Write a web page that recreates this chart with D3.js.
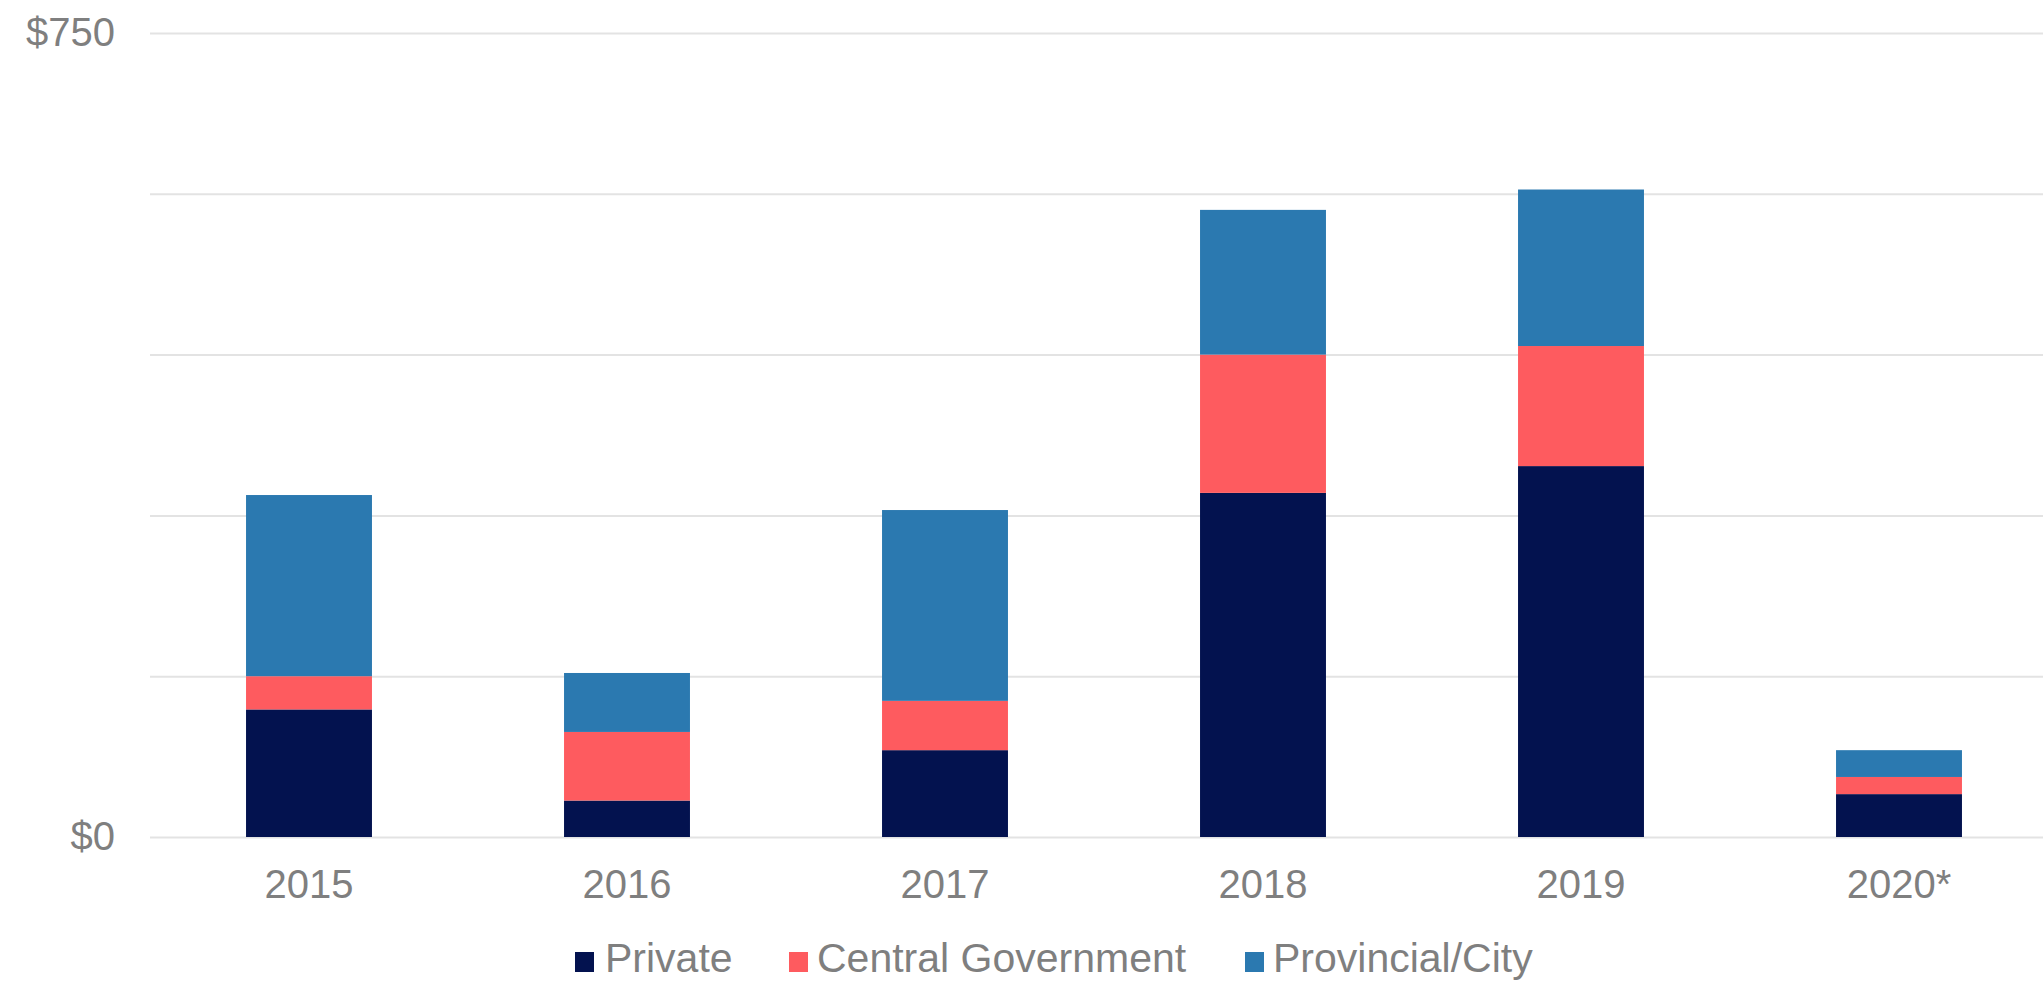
<!DOCTYPE html>
<html>
<head>
<meta charset="utf-8">
<script src="https://cdn.jsdelivr.net/npm/d3@7"></script>
<style>
    body { margin: 0; background: #fff; }
    svg { display: block; }
    text { font-family: "Liberation Sans", Arial, sans-serif; }
</style>
</head>
<body>
<div id="chart"></div>
<script>
// values (in $)
let years = ["2015", "2016", "2017", "2018", "2019", "2020*"];
let privateVals = [119, 34, 81, 321, 346, 40];
let centralVals = [31, 64, 46, 129, 112, 16];
let provincialVals = [169, 55, 178, 135, 146, 25];
let seriesNames = ["Private", "Central Government", "Provincial/City"];
let yTicks = [0, 150, 300, 450, 600, 750];
let yLabels = ["$0", "", "", "", "", "$750"];

let colors = ["#03124f", "#fe5b5f", "#2b79b0"];

let width = 2043, height = 984;
let margin = {top: 33, right: 0, bottom: 147, left: 150};

let svg = d3.select("#chart").append("svg")
    .attr("width", width)
    .attr("height", height);

// table for the stack
let table = years.map((y, i) => ({
    year: y,
    "Private": privateVals[i],
    "Central Government": centralVals[i],
    "Provincial/City": provincialVals[i]
}));

let x = d3.scaleBand()
    .domain(years)
    .range([margin.left, margin.left + 6 * 318])
    .paddingInner(0.604)
    .paddingOuter(0.302);

let y = d3.scaleLinear()
    .domain([0, 750])
    .range([height - margin.bottom, margin.top]);

// gridlines + y labels
let yAxis = svg.append("g")
    .attr("transform", `translate(${margin.left},0)`)
    .call(d3.axisLeft(y)
        .tickValues(yTicks)
        .tickSize(-(width - margin.left))
        .tickPadding(35)
        .tickFormat((d, i) => yLabels[i]));

yAxis.select(".domain").remove();
yAxis.selectAll(".tick line")
    .attr("stroke", "#e3e3e3")
    .attr("stroke-width", 2);
yAxis.selectAll(".tick text")
    .attr("fill", "#7f7f7f")
    .attr("font-size", 40)
    .attr("dy", "0.3em");

// stacked bars
let stack = d3.stack().keys(seriesNames);
let layers = stack(table);

svg.selectAll(".layer")
    .data(layers)
    .enter()
    .append("g")
    .attr("class", "layer")
    .attr("fill", (d, i) => colors[i])
    .selectAll("rect")
    .data(d => d)
    .enter()
    .append("rect")
    .attr("x", d => x(d.data.year))
    .attr("width", x.bandwidth())
    .attr("y", d => y(d[1]))
    .attr("height", d => y(d[0]) - y(d[1]));

// x labels
let xAxis = svg.append("g")
    .attr("transform", `translate(0,${height - margin.bottom})`)
    .call(d3.axisBottom(x).tickSize(0).tickPadding(33));

xAxis.select(".domain").remove();
xAxis.selectAll(".tick text")
    .attr("fill", "#7f7f7f")
    .attr("font-size", 40);

// legend
let legendX = [575, 789, 1245];
let legendTextX = [605, 817, 1273];
let legendY = 972;

let legend = svg.append("g").attr("class", "legend");
seriesNames.forEach((name, i) => {
    legend.append("rect")
        .attr("x", legendX[i])
        .attr("y", legendY - 20)
        .attr("width", 19)
        .attr("height", 20)
        .attr("fill", colors[i]);
    legend.append("text")
        .attr("x", legendTextX[i])
        .attr("y", legendY)
        .attr("fill", "#7f7f7f")
        .attr("font-size", 41)
        .text(name);
});
</script>
</body>
</html>
